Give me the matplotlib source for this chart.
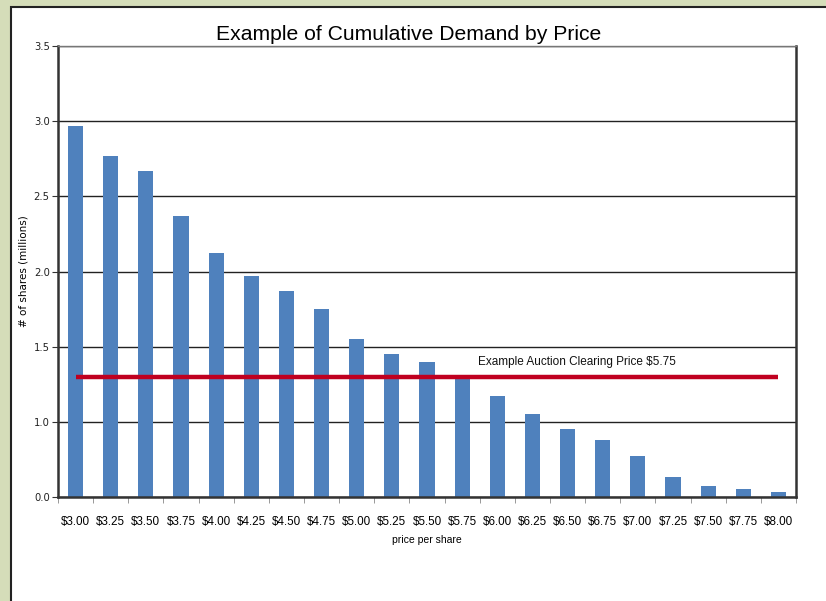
import matplotlib.pyplot as plt
from matplotlib.patches import Rectangle
import numpy as np

prices = ["$3.00", "$3.25", "$3.50", "$3.75", "$4.00", "$4.25", "$4.50",
          "$4.75", "$5.00", "$5.25", "$5.50", "$5.75", "$6.00", "$6.25",
          "$6.50", "$6.75", "$7.00", "$7.25", "$7.50", "$7.75", "$8.00"]
shares = [2.97, 2.77, 2.67, 2.37, 2.12, 1.97, 1.87, 1.75, 1.55, 1.45, 1.40,
          1.31, 1.17, 1.05, 0.95, 0.88, 0.77, 0.63, 0.57, 0.55, 0.53]
clearing = 1.3
ytick_vals = [0.5, 1.0, 1.5, 2.0, 2.5, 3.0, 3.5]
ytick_labels = ["0.0", "1.0", "1.5", "2.0", "2.5", "3.0", "3.5"]

fig = plt.figure(figsize=(8.26, 6.01), dpi=100, facecolor="#d5ddb9")
# white panel behind the chart
fig.patches.append(Rectangle((11 / 826, -0.01), 1.0, 1 - 7 / 601 + 0.01,
                             transform=fig.transFigure, facecolor="white",
                             edgecolor="#222222", linewidth=1.5, zorder=-10))

ax = fig.add_axes([58 / 826, 1 - 497 / 601, 738 / 826, 451 / 601])
ax.set_zorder(1)
x = np.arange(len(prices))
ax.bar(x, shares, width=0.43, color="#4f81bd", zorder=2)
ax.plot([x[0], x[-1]], [clearing, clearing], color="#c00020", linewidth=3.2,
        zorder=3, solid_capstyle="butt")
ax.text(11.45, 1.40, "Example Auction Clearing Price $5.75", fontsize=8.5,
        family="Liberation Sans", va="center", ha="left", color="#111111")

ax.set_xlim(-0.5, len(prices) - 0.5)
ax.set_ylim(0.5, 3.5)
ax.set_yticks(ytick_vals)
ax.set_yticklabels(ytick_labels, fontsize=7.2, color="#222222")
ax.set_xticks(x)
ax.set_xticklabels(prices, fontsize=8.4, family="Liberation Sans")
ax.set_xticks(np.arange(-0.5, len(prices), 1), minor=True)
ax.tick_params(axis="x", which="major", length=0, pad=14)
ax.tick_params(axis="x", which="minor", length=4, color="#888888")
ax.tick_params(axis="y", length=4, color="#333333", pad=2)
ax.yaxis.grid(True, color="#222222", linewidth=1, zorder=1)
ax.set_axisbelow(True)

for side in ["left", "bottom", "right"]:
    ax.spines[side].set_color("#333333")
    ax.spines[side].set_linewidth(1.8)
ax.spines["top"].set_color("#777777")
ax.spines["top"].set_linewidth(1.0)

ax.set_title("Example of Cumulative Demand by Price", fontsize=15.2,
             family="Liberation Sans", pad=4, x=0.475)
ax.set_xlabel("price per share", fontsize=7.5, family="Liberation Sans",
              labelpad=5)
ax.set_ylabel("# of shares (millions)", fontsize=7.5, labelpad=4)

fig.savefig("out.png", dpi=100, facecolor=fig.get_facecolor())
